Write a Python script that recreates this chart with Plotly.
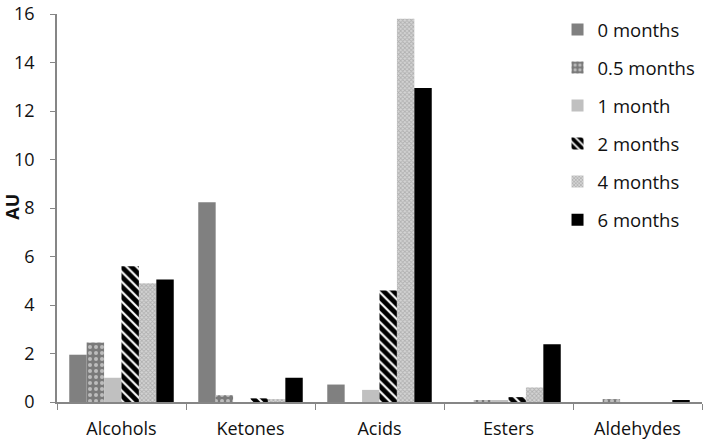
import plotly.graph_objects as go

categories = ["Alcohols", "Ketones", "Acids", "Esters", "Aldehydes"]
series_names = ["0 months", "0.5 months", "1 month", "2 months", "4 months", "6 months"]
v_0 = [1.95, 8.24, 0.72, 0.0, 0.0]
v_05 = [2.45, 0.28, 0.0, 0.05, 0.12]
v_1 = [1.0, 0.0, 0.5, 0.08, 0.0]
v_2 = [5.6, 0.15, 4.6, 0.2, 0.0]
v_4 = [4.9, 0.12, 15.8, 0.6, 0.0]
v_6 = [5.05, 1.0, 12.95, 2.38, 0.07]
values = [v_0, v_05, v_1, v_2, v_4, v_6]

styles = [
    dict(color="#808080"),
    dict(color="#7a7a7a", pattern=dict(shape=".", fgcolor="#ffffff", bgcolor="#7a7a7a", size=6, solidity=0.35)),
    dict(color="#c0c0c0"),
    dict(color="#000000", pattern=dict(shape="\\", fgcolor="#000000", bgcolor="#ffffff", size=7, solidity=0.7, fgopacity=1)),
    dict(color="#a6a6a6", pattern=dict(shape="x", fgcolor="#8c8c8c", bgcolor="#d4d4d4", size=3, solidity=0.5)),
    dict(color="#000000"),
]

fig = go.Figure()
for name, vals, st in zip(series_names, values, styles):
    fig.add_trace(go.Bar(x=categories, y=vals, name=name, legendgroup=name,
                         marker=dict(line=dict(width=0), **st)))

fig.update_layout(
    width=709, height=443,
    margin=dict(l=57, r=7, t=14, b=41, autoexpand=False),
    paper_bgcolor="white", plot_bgcolor="white",
    barmode="group", bargap=0.19, bargroupgap=0,
    font=dict(family="Open Sans", size=17, color="#111111"),
    legend=dict(x=0.776, y=1.008, xanchor="left", yanchor="top",
                font=dict(size=18.5), tracegroupgap=11, itemwidth=30,
                bgcolor="rgba(0,0,0,0)", maxheight=440),
    xaxis=dict(showline=True, linecolor="#868686", linewidth=1.5, automargin=False,
               ticks="outside", tickson="boundaries", ticklen=6, tickcolor="#868686",
               tickfont=dict(size=18), showgrid=False, ticklabelstandoff=10),
    yaxis=dict(range=[0, 16], dtick=2, showline=True, linecolor="#868686", linewidth=1.5,
               automargin=False,
               ticks="outside", ticklen=5, tickcolor="#868686", showgrid=False,
               zeroline=False, tickfont=dict(size=18), ticklabelstandoff=12,
               ticklabeloverflow="allow"),
    annotations=[dict(text="<b>AU</b>", xref="paper", yref="paper", x=-0.07, y=0.503,
                      textangle=-90, showarrow=False, font=dict(size=18),
                      xanchor="center", yanchor="middle")],
)
fig.write_html("out.html", config={"displayModeBar": False},
               post_script="document.body.style.margin='0';")
